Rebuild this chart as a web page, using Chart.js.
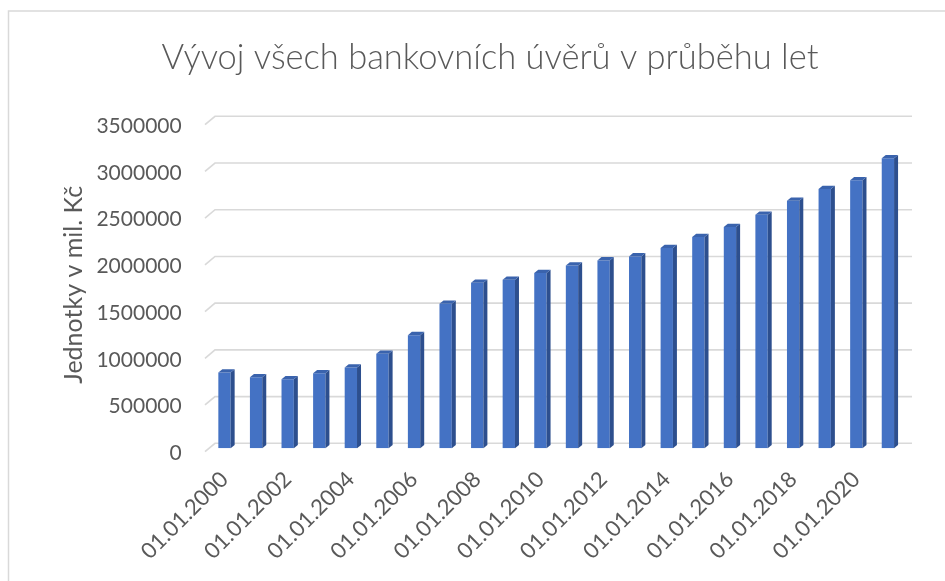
<!DOCTYPE html>
<html><head><meta charset="utf-8">
<script src="https://cdn.jsdelivr.net/npm/chart.js@4.4.0/dist/chart.umd.min.js"></script>
<style>
html,body{margin:0;padding:0;background:#fff;overflow:hidden;width:945px;height:581px;}
#wrap{position:absolute;left:0;top:0;width:980px;height:600px;}
canvas{display:block;}
</style></head><body>
<div id="wrap"><canvas id="c" width="980" height="600"></canvas></div>
<script>
const categories = ['01.01.2000','01.01.2001','01.01.2002','01.01.2003','01.01.2004','01.01.2005','01.01.2006','01.01.2007','01.01.2008','01.01.2009','01.01.2010','01.01.2011','01.01.2012','01.01.2013','01.01.2014','01.01.2015','01.01.2016','01.01.2017','01.01.2018','01.01.2019','01.01.2020','01.01.2021'];
const loans = [811000, 761000, 739000, 804000, 864000, 1011000, 1211000, 1546000, 1771000, 1804000, 1875000, 1957000, 2011000, 2054000, 2143000, 2261000, 2368000, 2500000, 2650000, 2775000, 2868000, 3104000];
const yTickValues = [0, 500000, 1000000, 1500000, 2000000, 2500000, 3000000, 3500000];
const chartTitle = 'Vývoj všech bankovních úvěrů v průběhu let';
const yAxisTitle = 'Jednotky v mil. Kč';

const FONT = 'Lato, "Open Sans", sans-serif';
const TXT = '#595959';
const FRONT = '#4472C4', SIDE = '#2D4F8E', TOP = '#3A63AD';
const BAR_DEPTH = {dx: 4, dy: 3.3};
const WALL = {bx: 6.3, by: -5, fx: -3.7, fy: 3.4, ext: 8.3};

const excel3d = {
  id: 'excel3d',
  beforeDraw(chart) {
    const ctx = chart.ctx;
    ctx.save();
    ctx.fillStyle = '#fff';
    ctx.fillRect(0, 0, chart.width, chart.height);
    ctx.strokeStyle = '#d9d9d9';
    ctx.lineWidth = 1.5;
    ctx.strokeRect(8.5, 11, chart.width + 50, chart.height + 50);
    ctx.restore();
  },
  beforeDatasetsDraw(chart) {
    const ctx = chart.ctx, ys = chart.scales.y, a = chart.chartArea;
    ctx.save();
    ctx.strokeStyle = '#d9d9d9';
    ctx.lineWidth = 1.6;
    yTickValues.forEach(v => {
      const p = ys.getPixelForValue(v);
      ctx.beginPath();
      ctx.moveTo(a.left + WALL.fx, p + WALL.fy);
      ctx.lineTo(a.left + WALL.bx, p + WALL.by);
      ctx.lineTo(a.right + WALL.ext, p + WALL.by);
      ctx.stroke();
    });
    ctx.restore();
  },
  afterDatasetsDraw(chart) {
    const ctx = chart.ctx;
    const meta = chart.getDatasetMeta(0);
    ctx.save();
    meta.data.forEach(bar => {
      const {x, y, base, width} = bar;
      const l = x - width / 2, r = x + width / 2;
      const dx = BAR_DEPTH.dx, dy = BAR_DEPTH.dy;
      ctx.fillStyle = SIDE;
      ctx.beginPath();
      ctx.moveTo(r, y); ctx.lineTo(r + dx, y - dy); ctx.lineTo(r + dx, base - dy); ctx.lineTo(r, base);
      ctx.closePath(); ctx.fill();
      ctx.fillStyle = TOP;
      ctx.beginPath();
      ctx.moveTo(l, y); ctx.lineTo(r, y); ctx.lineTo(r + dx, y - dy); ctx.lineTo(l + dx, y - dy);
      ctx.closePath(); ctx.fill();
    });
    ctx.restore();
  }
};

new Chart(document.getElementById('c'), {
  type: 'bar',
  data: {
    labels: categories,
    datasets: [{
      data: loans,
      backgroundColor: FRONT,
      borderWidth: 0,
      barPercentage: 0.39,
      categoryPercentage: 1
    }]
  },
  options: {
    responsive: false,
    animation: false,
    devicePixelRatio: 1,
    layout: {padding: 0},
    plugins: {
      legend: {display: false},
      tooltip: {enabled: false},
      title: {
        display: true,
        text: chartTitle,
        color: TXT,
        font: {family: FONT, size: 34.5, weight: 300, lineHeight: 1.2},
        padding: {top: 37.3, bottom: 42.6}
      }
    },
    scales: {
      x: {
        grid: {display: false, drawTicks: false},
        border: {display: false},
        ticks: {
          autoSkip: false, minRotation: 45, maxRotation: 45, padding: 18,
          color: TXT, font: {family: FONT, size: 22},
          callback: (v, i) => (i % 2 === 0 ? categories[i] : '')
        },
        afterFit: s => { s.height = 151.7; }
      },
      y: {
        position: 'left',
        min: 0, max: 3500000,
        grid: {display: false, drawTicks: false},
        border: {display: false},
        afterBuildTicks: s => { s.ticks = yTickValues.map(v => ({value: v})); },
        ticks: {
          padding: 27, labelOffset: 5,
          color: TXT, font: {family: FONT, size: 21},
          callback: v => String(v)
        },
        title: {
          display: true, text: yAxisTitle, color: TXT,
          font: {family: FONT, size: 25, lineHeight: 1.2},
          padding: {top: 59, bottom: 0}
        },
        afterFit: s => { s.width = 208.7; }
      },
      yr: {
        position: 'right',
        display: true,
        grid: {display: false, drawTicks: false},
        border: {display: false},
        ticks: {display: false},
        afterFit: s => { s.width = 76.3; }
      }
    }
  },
  plugins: [excel3d]
});
</script>
</body></html>
